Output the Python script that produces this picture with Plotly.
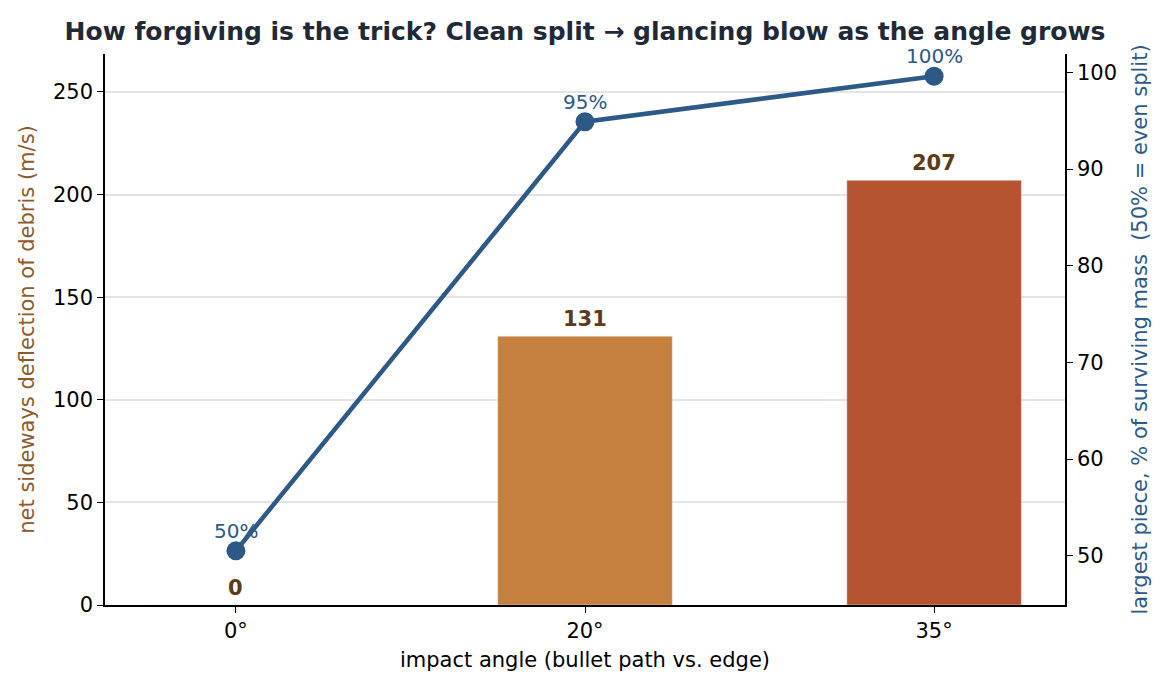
import plotly.graph_objects as go

angles = ["0°", "20°", "35°"]
deflection = [0, 131, 207]
largest_piece = [50.5, 94.9, 99.6]
bar_colors = ["#C5803F", "#C5803F", "#B55430"]

FONT = "DejaVu Sans"
W, H = 1154, 674  # page body has an 8px margin

fig = go.Figure()
fig.add_trace(go.Bar(
    x=angles, y=deflection, marker_color=bar_colors, width=0.5,
    yaxis="y", showlegend=False, hoverinfo="skip",
))
fig.add_trace(go.Scatter(
    x=angles, y=largest_piece, yaxis="y2", mode="lines+markers",
    line=dict(color="#2D5986", width=4.5), marker=dict(size=19, color="#2D5986"),
    showlegend=False, cliponaxis=False,
))

for a, v in zip(angles, deflection):
    fig.add_annotation(x=a, y=v, xref="x", yref="y", text=f"<b>{v}</b>",
                       showarrow=False, yanchor="bottom", yshift=3,
                       font=dict(family=FONT, size=21, color="#5C3A1A"))

for a, v in zip(angles, largest_piece):
    fig.add_annotation(x=a, y=v, xref="x", yref="y2", text=f"{v:.0f}%",
                       showarrow=False, yanchor="middle", yshift=20,
                       font=dict(family=FONT, size=20, color="#2D5986"))

fig.update_layout(
    width=W, height=H,
    margin=dict(l=97, r=97, t=46, b=77),
    paper_bgcolor="white", plot_bgcolor="white",
    font=dict(family=FONT, size=21, color="black"),
    title=dict(text="<b>How forgiving is the trick? Clean split → glancing blow as the angle grows</b>",
               x=0.5, xanchor="center", y=1 - 23 / H, yanchor="middle",
               yref="container", font=dict(family=FONT, size=25, color="#1F2937")),
    xaxis=dict(type="category", categoryorder="array", categoryarray=angles,
               range=[-0.375, 2.375], showline=True, linecolor="black", linewidth=1.5,
               ticks="outside", ticklen=6, tickcolor="black", showgrid=False,
               tickfont=dict(size=21),
               title=dict(text="impact angle (bullet path vs. edge)", standoff=10,
                          font=dict(family=FONT, size=21, color="black"))),
    yaxis=dict(range=[0, 268.5], tickvals=[0, 50, 100, 150, 200, 250],
               showline=True, linecolor="black", linewidth=1.5, ticks="outside",
               ticklen=6, tickcolor="black", showgrid=True, gridcolor="#E2E4E8",
               gridwidth=1.5, zeroline=False, tickfont=dict(size=21),
               title=dict(text="net sideways deflection of debris (m/s)", standoff=13,
                          font=dict(family=FONT, size=21, color="#8C5A2B"))),
    yaxis2=dict(range=[44.9, 101.9], tickvals=[50, 60, 70, 80, 90, 100], overlaying="y",
                side="right", showline=True, linecolor="black", linewidth=1.5,
                ticks="outside", ticklen=6, tickcolor="black", showgrid=False,
                zeroline=False, tickfont=dict(size=21),
                title=dict(text="largest piece, % of surviving mass \u00a0(50% = even split)",
                           standoff=16, font=dict(family=FONT, size=21, color="#2D5986"))),
)

fig.write_html("out.html")
